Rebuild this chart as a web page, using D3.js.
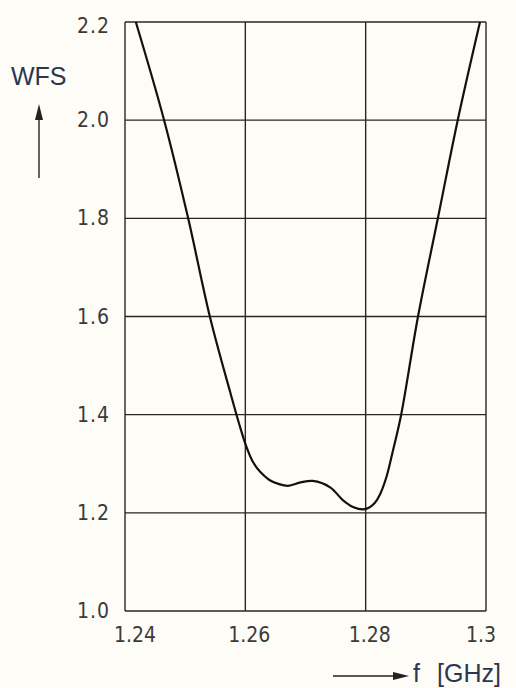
<!DOCTYPE html>
<html>
<head>
<meta charset="utf-8">
<script src="https://cdn.jsdelivr.net/npm/d3@7"></script>
<style>
  html, body { margin: 0; padding: 0; background: #fdfcf7; }
  svg { display: block; }
  .tick-label { font-family: "DejaVu Sans Condensed", "Liberation Sans Narrow", sans-serif; fill: #3a3a3a; font-size: 21px; }
  .axis-title { font-family: "Liberation Sans", Arial, sans-serif; fill: #2c3650; font-size: 25px; }
</style>
</head>
<body>
<svg width="516" height="688"></svg>
<script>
// frequency in GHz and standing wave ratio
const freq = [1.2418, 1.2465, 1.2505, 1.2541, 1.2575, 1.2590, 1.2602, 1.2613, 1.2625, 1.2640, 1.2655, 1.2671,
              1.2692, 1.2712, 1.2741, 1.2762, 1.2779, 1.2796, 1.2806, 1.2815, 1.2824, 1.2835, 1.2845,
              1.2859, 1.2887, 1.2920, 1.2953, 1.2990];
const wfs  = [2.2, 2.0, 1.8, 1.6, 1.445, 1.38, 1.334, 1.303, 1.283, 1.267, 1.259, 1.255,
              1.262, 1.265, 1.252, 1.226, 1.212, 1.207, 1.211, 1.22, 1.238, 1.275, 1.325,
              1.4, 1.6, 1.8, 2.0, 2.2];

const xTicks = [1.24, 1.26, 1.28, 1.3];
const xTickLabels = ["1.24", "1.26", "1.28", "1.3"];
const yTicks = [1.0, 1.2, 1.4, 1.6, 1.8, 2.0, 2.2];
const yTickLabels = ["1.0", "1.2", "1.4", "1.6", "1.8", "2.0", "2.2"];

const svg = d3.select("svg");
const plotLeft = 125, plotRight = 486, plotTop = 22, plotBottom = 611;

const x = d3.scaleLinear().domain([1.24, 1.3]).range([plotLeft, plotRight]);
const y = d3.scaleLinear().domain([1.0, 2.2]).range([plotBottom, plotTop]);

// grid
const grid = svg.append("g").attr("stroke", "#2b2622").attr("stroke-width", 1.4);
grid.selectAll(".vg").data(xTicks).enter().append("line")
    .attr("x1", d => x(d)).attr("x2", d => x(d))
    .attr("y1", plotTop).attr("y2", plotBottom);
grid.selectAll(".hg").data(yTicks).enter().append("line")
    .attr("y1", d => y(d)).attr("y2", d => y(d))
    .attr("x1", plotLeft).attr("x2", plotRight);

// y labels
svg.selectAll(".yl").data(yTicks).enter().append("text")
    .attr("class", "tick-label")
    .attr("x", 110)
    .attr("y", d => y(d) + (d === 2.2 ? 4 : 0))
    .attr("text-anchor", "end")
    .attr("dominant-baseline", "central")
    .attr("letter-spacing", "1px")
    .text((d, i) => yTickLabels[i]);

// x labels
svg.selectAll(".xl").data(xTicks).enter().append("text")
    .attr("class", "tick-label")
    .attr("x", (d, i) => x(d) + (i === 0 ? 10 : i === xTicks.length - 1 ? -5 : 4))
    .attr("y", 642)
    .attr("text-anchor", "middle")
    .text((d, i) => xTickLabels[i]);

// curve
const pts = freq.map((f, i) => [f, wfs[i]]);
svg.append("path")
    .datum(pts)
    .attr("fill", "none")
    .attr("stroke", "#111")
    .attr("stroke-width", 2.2)
    .attr("d", d3.line().x(d => x(d[0])).y(d => y(d[1])).curve(d3.curveCatmullRom.alpha(0.5)));

// axis titles with arrows
svg.append("text").attr("class", "axis-title").attr("x", 11).attr("y", 85).text("WFS");
svg.append("line").attr("x1", 39).attr("x2", 39).attr("y1", 116).attr("y2", 178)
    .attr("stroke", "#222").attr("stroke-width", 1.4);
svg.append("path").attr("d", "M39,104 L35,120 L43,120 Z").attr("fill", "#222");

svg.append("line").attr("x1", 333).attr("x2", 396).attr("y1", 676).attr("y2", 676)
    .attr("stroke", "#222").attr("stroke-width", 1.4);
svg.append("path").attr("d", "M409,676 L393,672 L393,680 Z").attr("fill", "#222");
svg.append("text").attr("class", "axis-title").attr("x", 413).attr("y", 682).text("f");
svg.append("text").attr("class", "axis-title").attr("x", 437).attr("y", 682).text("[GHz]");
</script>
</body>
</html>
